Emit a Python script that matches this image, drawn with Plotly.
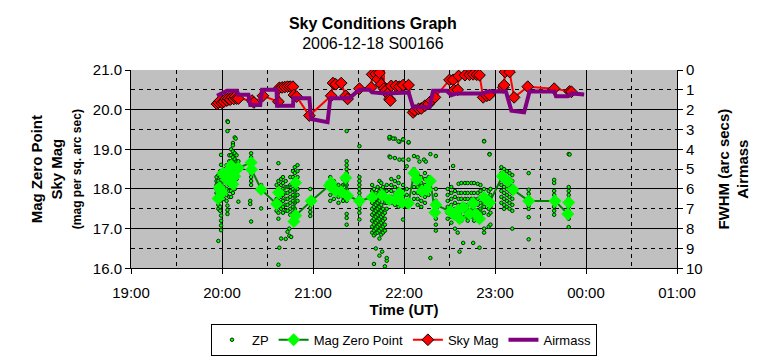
import plotly.graph_objects as go

# ---------------- axis tick labels ----------------
x_tickvals = [19, 20, 21, 22, 23, 24, 25]
x_ticktext = ["19:00", "20:00", "21:00", "22:00", "23:00", "00:00", "01:00"]

# ---------------- Airmass (right axis) ----------------
am_t = [19.945, 20.055, 20.164, 20.18, 20.29, 20.31, 20.42, 20.44, 20.60, 20.605,
        20.78, 20.785, 20.96, 20.98, 21.16, 21.19, 21.40, 21.51, 21.62, 21.65,
        21.80, 21.95, 22.05, 22.10, 22.28, 22.32, 22.47, 22.52, 22.58, 22.87,
        22.92, 23.12, 23.18, 23.32, 23.38, 23.65, 23.67, 23.80, 23.84, 23.98]
am_v = [1.30, 1.05, 1.05, 1.25, 1.25, 1.77, 1.77, 1.00, 1.00, 1.80,
        1.80, 1.42, 1.42, 2.47, 2.63, 1.42, 1.42, 1.00, 1.00, 1.13,
        1.18, 1.18, 1.13, 1.88, 1.88, 1.05, 1.05, 1.27, 1.18, 1.18,
        1.08, 1.08, 2.05, 2.13, 1.08, 1.08, 1.33, 1.33, 1.18, 1.23]

# ---------------- Sky Mag ----------------
sky_t = [19.945, 19.96, 19.98, 20.00, 20.02, 20.04, 20.055, 20.07, 20.09, 20.11,
         20.13, 20.145, 20.16, 20.18, 20.33, 20.35, 20.45, 20.62, 20.63, 20.66,
         20.69, 20.72, 20.75, 20.78, 20.79, 20.82, 20.96, 21.20, 21.22, 21.25,
         21.31, 21.36, 21.38, 21.51, 21.64, 21.65, 21.69, 21.71, 21.73, 21.75,
         21.78, 21.78, 21.80, 21.82, 21.84, 21.85, 21.86, 21.91, 21.95, 21.99,
         22.05, 22.10, 22.12, 22.16, 22.19, 22.23, 22.27, 22.30, 22.34, 22.50,
         22.54, 22.55, 22.59, 22.60, 22.67, 22.72, 22.76, 22.80, 22.83, 22.87,
         22.91, 22.94, 23.09, 23.10, 23.11, 23.16, 23.21, 23.36, 23.65, 23.82,
         23.84]
sky_v = [20.14, 20.18, 20.23, 20.17, 20.20, 20.27, 20.23, 20.28, 20.25, 20.31,
         20.27, 20.33, 20.28, 20.28, 20.23, 20.18, 20.35, 20.20, 20.55, 20.56,
         20.57, 20.58, 20.58, 20.58, 20.37, 20.33, 19.85, 20.35, 20.67, 20.64,
         20.67, 20.35, 20.27, 20.53, 20.56, 20.89, 20.90, 20.77, 20.93, 20.64,
         21.35, 20.53, 20.48, 20.40, 20.27, 20.23, 20.60, 20.60, 20.58, 20.62,
         20.62, 19.93, 19.98, 20.02, 20.03, 20.10, 20.14, 20.23, 20.31, 20.75,
         20.75, 20.50, 20.50, 20.85, 20.87, 20.88, 20.89, 20.88, 20.87, 20.31,
         20.35, 20.37, 20.56, 20.62, 20.95, 20.95, 20.31, 20.58, 20.53, 20.46,
         20.45]

# ---------------- Mag Zero Point ----------------
mzp_t = [19.956, 19.97, 19.99, 20.00, 20.01, 20.05, 20.07, 20.08, 20.10, 20.12,
         20.14, 20.18, 20.32, 20.325, 20.43, 20.60, 20.62, 20.81, 20.79, 20.81,
         20.98, 21.18, 21.20, 21.25, 21.31, 21.36, 21.38, 21.51, 21.65, 21.76,
         21.84, 21.90, 21.95, 21.98, 22.05, 22.11, 22.14, 22.20, 22.25, 22.29,
         22.34, 22.35, 22.51, 22.55, 22.59, 22.61, 22.65, 22.72, 22.76, 22.79,
         22.83, 22.88, 22.94, 23.08, 23.14, 23.20, 23.37, 23.66, 23.80, 23.81]
mzp_v = [17.76, 18.03, 17.95, 17.91, 18.40, 18.24, 18.45, 18.32, 18.59, 18.12,
         18.32, 18.53, 18.67, 18.49, 17.99, 17.62, 17.91, 18.16, 17.18, 17.33,
         17.70, 18.09, 18.16, 17.95, 17.93, 18.28, 17.83, 17.70, 17.79, 17.84,
         17.73, 17.73, 17.89, 17.66, 17.64, 18.40, 18.24, 17.95, 17.99, 18.20,
         17.41, 17.60, 17.43, 17.35, 17.45, 17.25, 17.54, 17.37, 17.64, 17.37,
         17.25, 17.79, 17.66, 18.32, 18.20, 17.98, 17.70, 17.70, 17.37, 17.66]

# ---------------- ZP (individual frames), grouped by time column ----------------
zp_col_t = [19.94, 19.96, 19.98, 19.99, 20.02, 20.05, 20.06, 20.08, 20.10, 20.12,
            20.14, 20.16, 20.18, 20.31, 20.32, 20.43, 20.60, 20.62, 20.63, 20.65,
            20.67, 20.70, 20.72, 20.74, 20.75, 20.76, 20.78, 20.80, 20.83, 20.97,
            21.19, 21.23, 21.28, 21.33, 21.37, 21.51, 21.65, 21.67, 21.69, 21.71,
            21.73, 21.75, 21.76, 21.77, 21.79, 21.81, 21.84, 21.85, 21.86, 21.90,
            21.94, 21.95, 21.99, 22.03, 22.05, 22.11, 22.15, 22.17, 22.19, 22.22,
            22.23, 22.24, 22.27, 22.29, 22.35, 22.48, 22.52, 22.54, 22.56, 22.59,
            22.60, 22.61, 22.63, 22.65, 22.67, 22.70, 22.74, 22.76, 22.77, 22.81,
            22.83, 22.84, 22.88, 22.93, 22.94, 22.95, 23.07, 23.10, 23.13, 23.16,
            23.19, 23.37, 23.65, 23.81]
zp_col_v = [
    [18.3, 18.2, 18.1, 18.0, 17.9],
    [18.35, 18.2, 18.05, 17.95, 17.85, 17.7, 17.6, 17.5, 16.69],
    [18.45, 18.3, 18.15, 18.0, 17.85, 17.7, 17.55, 17.45],
    [18.86, 18.61, 18.4, 17.8, 17.33, 17.2, 17.08, 16.96],
    [18.5, 18.35, 18.2, 18.05, 17.9, 17.75],
    [18.6, 18.45, 18.3, 18.15, 18.0, 17.85, 17.7],
    [19.71, 19.46, 17.58, 17.47, 17.37],
    [18.85, 18.7, 18.55, 18.4, 18.25, 18.1, 17.95, 17.8],
    [19.0, 18.85, 18.7, 18.55, 18.4, 18.25, 18.1, 17.95, 17.8],
    [19.16, 19.1, 18.95, 18.8, 18.65, 18.5, 18.35, 18.2, 18.05, 17.9],
    [19.3, 18.9, 18.75, 18.6, 18.45, 18.3, 18.15, 18.0],
    [18.85, 18.7, 18.55, 18.4, 18.25],
    [18.7, 18.55, 17.68],
    [17.7, 17.62],
    [18.9, 18.8, 18.7, 18.6, 18.5, 18.4, 18.3, 18.2, 18.1, 17.18],
    [18.1, 17.51],
    [18.1, 17.9, 17.75, 17.6, 17.45],
    [18.65, 18.2, 18.0, 17.85, 17.7, 17.55, 17.4, 17.25, 16.09],
    [16.52],
    [18.25, 18.1, 17.95, 17.8, 17.65, 17.5, 16.75],
    [18.3, 18.15, 18.0, 17.85, 17.7, 17.55, 17.4],
    [18.2, 18.05, 17.9, 17.75, 17.6, 17.45, 16.74],
    [18.05, 17.9, 17.75, 17.6, 17.45, 16.92],
    [17.0, 16.82],
    [18.3, 18.1, 17.95, 17.8, 17.65, 17.5, 17.35],
    [16.79],
    [18.45, 18.3, 18.15, 18.0, 17.85, 17.7, 17.55, 17.4, 17.25],
    [18.55, 18.4, 18.25, 18.1, 17.95, 17.8, 17.65, 17.5, 17.35],
    [18.6, 18.45, 18.3, 18.15, 18.0, 17.85, 17.7],
    [18.0, 17.72, 17.62, 17.52, 17.42, 17.32],
    [18.3, 18.15, 18.0, 17.85, 17.7],
    [18.2, 18.05, 17.9, 17.75],
    [18.1, 17.95, 17.8, 17.65],
    [18.25, 18.1, 17.95, 17.8, 17.7],
    [19.46, 18.7, 18.6, 18.5, 18.4, 18.3, 18.2, 18.1, 18.0, 17.9, 17.8, 17.7, 17.37, 17.27, 17.1],
    [19.08, 18.3, 18.2, 18.1, 18.0, 17.9, 17.8, 17.7, 17.6, 17.5, 17.4, 17.23],
    [18.1, 17.95, 17.8, 17.65, 17.5, 17.35, 17.2, 17.05, 16.9],
    [18.0, 17.85, 17.7, 17.55, 17.4, 17.25, 17.1, 16.95, 16.83, 16.11],
    [17.9, 17.75, 17.6, 17.45, 17.3, 17.15, 17.0, 16.88, 16.5],
    [18.05, 17.8, 17.65, 17.5, 17.35, 17.2, 17.05, 16.9],
    [18.2, 17.95, 17.7, 17.55, 17.4, 17.25, 17.1, 16.95, 16.75, 16.32],
    [18.15, 18.0, 17.85, 17.6, 17.45, 17.3, 17.15, 17.0, 16.85],
    [16.42],
    [18.05, 17.9, 17.75, 17.5, 17.35, 17.2, 17.05, 16.9],
    [17.95, 17.8, 17.65, 17.4, 17.25, 17.1, 16.95, 16.05],
    [18.1, 17.95, 17.8, 17.65, 17.5, 16.19, 16.26],
    [19.27, 18.82],
    [19.31, 18.8],
    [18.25, 18.1, 17.95, 17.8, 17.65],
    [19.27, 18.78, 18.2, 18.05, 17.9, 17.75, 17.6],
    [18.3, 18.15, 18.0, 17.85, 17.7, 17.55],
    [19.19, 18.74],
    [19.25, 18.74, 18.1, 17.95, 17.8, 17.23],
    [18.57, 18.0, 17.85, 17.7, 17.55],
    [19.17, 18.74],
    [18.83, 18.5, 18.35, 18.2, 18.05, 17.9, 17.75],
    [18.8, 18.35, 18.2, 18.05, 17.9, 17.75, 17.6],
    [18.69],
    [18.3, 18.15, 18.0, 17.85, 17.7, 17.55],
    [18.74],
    [18.4, 18.25, 18.1, 17.95, 17.8, 17.65],
    [18.69],
    [18.3, 18.15, 18.0, 17.85],
    [18.88, 16.26],
    [18.83, 18.0, 17.85, 17.7, 17.55, 17.4, 17.25, 17.1, 16.95],
    [18.0, 17.85, 17.7, 17.55, 17.4, 17.25],
    [18.05, 17.9, 17.75, 17.6, 17.45, 17.3, 17.15],
    [18.58],
    [17.95, 17.8, 17.65, 17.5, 17.35, 17.0],
    [16.9],
    [18.13, 17.9, 17.75, 17.6, 17.45, 17.3, 17.2],
    [16.42],
    [18.15, 17.9, 17.75, 17.6, 17.45, 17.3, 17.2],
    [16.64],
    [18.15, 17.9, 17.75, 17.6, 17.45, 17.3],
    [18.15, 17.9, 17.75, 17.6, 17.45, 17.3, 17.2],
    [18.15, 17.9, 17.75, 17.6, 17.45, 17.3],
    [16.64],
    [18.15, 17.9, 17.75, 17.6, 17.45, 17.3, 17.2],
    [18.13, 17.9, 17.75, 17.6, 17.45, 17.3],
    [16.52],
    [18.1, 17.95, 17.8, 17.65, 17.5, 17.35, 17.2],
    [19.21, 18.0, 17.85, 17.7, 17.55, 17.4, 17.0, 16.9],
    [17.95, 17.8, 17.65, 17.5, 17.35, 17.05],
    [18.88],
    [18.0, 17.85, 17.7, 17.55, 17.4, 17.1],
    [18.55, 18.4, 18.25, 18.1, 17.95, 17.8, 17.65],
    [18.5, 18.35, 18.2, 18.05, 17.9, 17.75, 17.6, 17.5],
    [18.45, 18.3, 18.15, 18.0, 17.85, 17.7, 17.55],
    [18.4, 18.25, 18.1, 17.95, 17.8, 17.65, 17.5],
    [18.35, 18.2, 18.05, 17.9, 17.75, 17.6, 17.45, 17.0],
    [18.4, 17.98, 17.88, 17.78, 17.68, 17.58, 17.5, 17.29, 16.73],
    [18.23, 18.15, 17.95, 17.85, 17.75, 17.65, 17.55, 17.45, 17.35],
    [18.88, 18.05, 17.95, 17.85, 17.75, 17.65, 17.55, 17.45, 17.35, 17.25, 17.04],
]

# Additional isolated ZP points in the upper area
zp_extra_t = [20.065, 20.15, 21.84, 21.88, 21.94, 21.99, 22.05, 22.88, 22.94, 23.82]
zp_extra_v = [19.69, 19.27, 19.31, 19.27, 19.20, 19.25, 19.18, 19.20, 18.87, 18.87]

zp_t, zp_v = [], []
for t, vals in zip(zp_col_t, zp_col_v):
    for v in vals:
        zp_t.append(t)
        zp_v.append(v)
zp_t += zp_extra_t
zp_v += zp_extra_v

FONT = "Liberation Sans, Arial, sans-serif"

fig = go.Figure()
fig.add_trace(go.Scatter(
    x=zp_t, y=zp_v, mode="markers", name="ZP",
    marker=dict(size=3.5, color="#00FF00", line=dict(color="#003300", width=1)),
))
fig.add_trace(go.Scatter(
    x=mzp_t, y=mzp_v, mode="lines+markers", name="Mag Zero Point",
    line=dict(color="#008000", width=2),
    marker=dict(symbol="diamond", size=10, color="#00FF00"),
))
fig.add_trace(go.Scatter(
    x=sky_t, y=sky_v, mode="lines+markers", name="Sky Mag",
    line=dict(color="#FF0000", width=2),
    marker=dict(symbol="diamond", size=9, color="#FF0000", line=dict(color="black", width=1)),
))
fig.add_trace(go.Scatter(
    x=am_t, y=am_v, mode="lines", name="Airmass", yaxis="y2",
    line=dict(color="#800080", width=4),
))

fig.update_layout(
    width=761, height=357,
    margin=dict(l=131, r=81, t=70, b=86),
    paper_bgcolor="white", plot_bgcolor="#C0C0C0",
    font=dict(family=FONT, size=15, color="black"),
    title=dict(
        text="<b>Sky Conditions Graph</b><br>2006-12-18 S00166",
        x=0.49, xref="container", xanchor="center",
        y=0.92, yref="container", yanchor="middle",
        font=dict(size=16, family=FONT, color="black"),
    ),
    showlegend=True,
    legend=dict(
        orientation="h", x=0.5, xanchor="center", xref="paper",
        y=0.093, yanchor="top", yref="container",
        bordercolor="black", borderwidth=1, bgcolor="white",
        font=dict(size=13, family=FONT),
        traceorder="normal",
    ),
    xaxis=dict(
        range=[19, 25], tickmode="array", tickvals=x_tickvals, ticktext=x_ticktext,
        ticks="outside", ticklen=5, tickcolor="black", ticklabelstandoff=6,
        showline=True, linecolor="black", linewidth=1,
        showgrid=True, gridcolor="black", gridwidth=1, zeroline=False,
        minor=dict(tickmode="linear", tick0=19, dtick=0.5, showgrid=True,
                   gridcolor="black", griddash="4px,4px", gridwidth=1, ticks=""),
        title=dict(text="<b>Time (UT)</b>", standoff=0, font=dict(size=15)),
        tickfont=dict(size=15),
    ),
    xaxis2=dict(
        overlaying="x", side="top", range=[19, 25], showline=True,
        linecolor="#808080", showticklabels=False, ticks="", showgrid=False, zeroline=False,
    ),
    yaxis=dict(
        range=[16, 21], tick0=16, dtick=1, tickformat=".1f",
        ticks="outside", ticklen=5, tickcolor="black",
        showline=True, linecolor="black", linewidth=1,
        showgrid=True, gridcolor="black", gridwidth=1, zeroline=False,
        minor=dict(tick0=16, dtick=0.5, showgrid=True, gridcolor="black",
                   griddash="4px,4px", gridwidth=1, ticks=""),
        title=dict(
            text="<b>Mag Zero Point<br>Sky Mag<br><span style='font-size:12px'>(mag per sq. arc sec)</span></b>",
            standoff=7, font=dict(size=15),
        ),
        tickfont=dict(size=15),
    ),
    yaxis2=dict(
        overlaying="y", side="right", range=[10, 0], tick0=0, dtick=1,
        ticks="outside", ticklen=5, tickcolor="black",
        showline=True, linecolor="black", linewidth=1,
        showgrid=False, zeroline=False,
        title=dict(text="<b>FWHM (arc secs)<br>Airmass</b>", standoff=16, font=dict(size=15)),
        tickfont=dict(size=15),
    ),
)

fig.write_html("out.html", config={"displayModeBar": False},
               post_script="document.body.style.margin='0';")
